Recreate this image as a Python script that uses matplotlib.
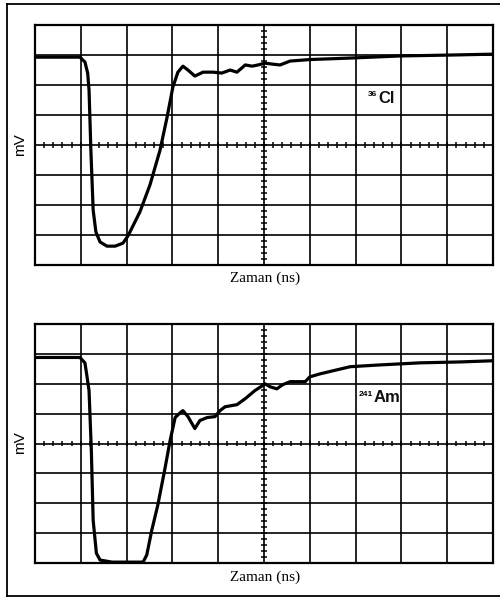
import numpy as np
import matplotlib
matplotlib.use('Agg')
import matplotlib.pyplot as plt
from matplotlib.lines import Line2D

# egriler (x: bolme 0..10, y: bolme -4..4)
cl_x = [0, 0.98, 1.09, 1.15, 1.18, 1.22, 1.27, 1.33, 1.42, 1.57, 1.75, 1.92, 2.03, 2.29, 2.51,
        2.73, 2.88, 3.01, 3.12, 3.23, 3.34, 3.49, 3.67, 3.89, 4.08, 4.26, 4.41, 4.59, 4.74,
        4.87, 5.02, 5.17, 5.35, 5.57, 6.0, 6.88, 7.97, 9.06, 10.0]
cl_y = [2.93, 2.93, 2.77, 2.4, 1.83, -0.17, -2.17, -2.9, -3.23, -3.37, -3.37, -3.27, -3.03,
        -2.23, -1.33, -0.17, 0.9, 1.93, 2.43, 2.63, 2.5, 2.3, 2.43, 2.43, 2.4, 2.5, 2.43,
        2.67, 2.63, 2.67, 2.73, 2.7, 2.67, 2.8, 2.85, 2.9, 2.97, 3.0, 3.03]

am_x = [0, 0.98, 1.09, 1.13, 1.18, 1.23, 1.27, 1.34, 1.42, 1.68, 2.36, 2.44, 2.55, 2.68,
        2.83, 2.95, 3.06, 3.17, 3.23, 3.34, 3.49, 3.6, 3.76, 3.93, 4.04, 4.15, 4.41, 4.59,
        4.80, 4.96, 5.02, 5.13, 5.28, 5.41, 5.57, 5.90, 6.0, 6.22, 6.88, 7.53, 8.41, 9.28, 10.0]
am_y = [2.88, 2.88, 2.7, 2.3, 1.77, -0.23, -2.57, -3.67, -3.9, -3.97, -3.97, -3.73, -2.9,
        -2.07, -0.9, 0.1, 0.87, 1.03, 1.1, 0.9, 0.5, 0.77, 0.87, 0.9, 1.1, 1.23, 1.3, 1.5,
        1.77, 1.93, 2.0, 1.9, 1.83, 1.97, 2.07, 2.07, 2.23, 2.33, 2.57, 2.63, 2.7, 2.73, 2.77]

kutle = ['36', '241']
element = ['Cl', 'Am']
etiket_pos = [(7.47, 1.55), (7.38, 1.53)]

fig = plt.figure(figsize=(5, 6.01), dpi=100)
boxes = [[0.07, 0.559, 0.916, 0.3993], [0.07, 0.0632, 0.916, 0.3977]]
mv_y = [0.759, 0.263]
zaman_y = [0.537, 0.04]

for xs, ys, k, el, pos, box, my, zy in zip([cl_x, am_x], [cl_y, am_y], kutle, element,
                                          etiket_pos, boxes, mv_y, zaman_y):
    ax = fig.add_axes(box)
    ax.set_xlim(0, 10)
    ax.set_ylim(-4, 4)
    ax.set_xticks([])
    ax.set_yticks([])
    for s in ax.spines.values():
        s.set_linewidth(1.6)
    for gx in range(1, 10):
        ax.axvline(gx, color='black', lw=1.2)
    for gy in range(-3, 4):
        ax.axhline(gy, color='black', lw=1.2)
    # orta eksen uzerindeki kucuk cizgiler
    mx = np.arange(0, 10.01, 0.2)
    my_t = np.arange(-4, 4.01, 0.2)
    ax.vlines(mx, -0.1, 0.1, color='black', lw=1.1)
    ax.hlines(my_t, 4.93, 5.07, color='black', lw=1.1)
    ax.plot(xs, ys, color='black', lw=2.3, solid_joinstyle='round', solid_capstyle='round')
    ax.text(pos[0], pos[1] + 0.12, k, fontsize=6, ha='right', va='center',
            family='Liberation Sans', fontweight='bold')
    ax.text(pos[0] + 0.02, pos[1], el, fontsize=12, ha='left', va='center',
            family='Liberation Sans', fontweight='bold', color='#111111')
    fig.text(0.04, my, 'mV', rotation=90, ha='center', va='center', fontsize=11,
             family='Liberation Sans')
    fig.text(0.53, zy, 'Zaman (ns)', ha='center', va='center', fontsize=11,
             family='Liberation Serif')

# dis cerceve
fig.add_artist(Line2D([0.014, 0.014], [0.008, 0.994], color='black', lw=1.3))
fig.add_artist(Line2D([0.014, 1.0], [0.994, 0.994], color='black', lw=1.3))
fig.add_artist(Line2D([0.014, 1.0], [0.008, 0.008], color='black', lw=1.3))

fig.savefig('out.png', dpi=100)
